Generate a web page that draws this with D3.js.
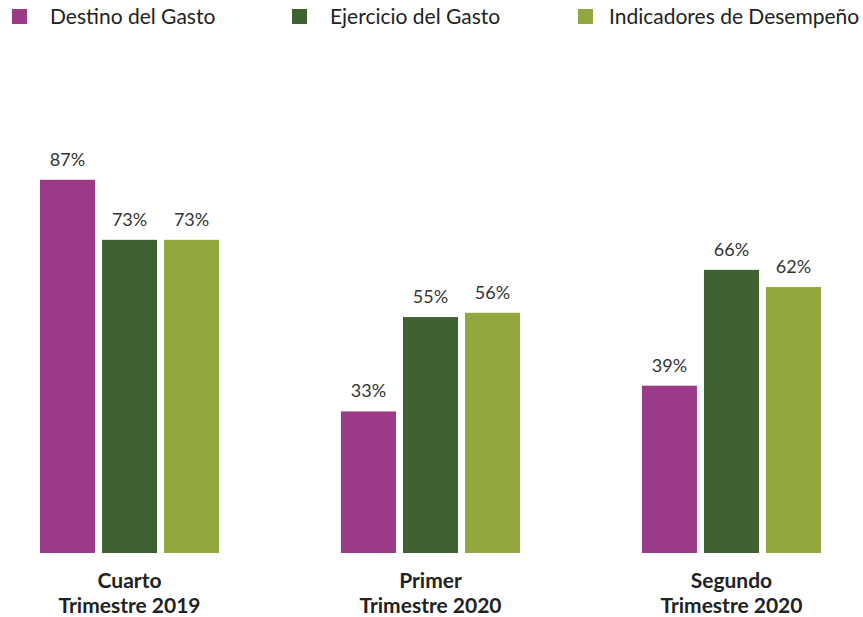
<!DOCTYPE html>
<html>
<head>
<meta charset="utf-8">
<script src="https://cdn.jsdelivr.net/npm/d3@7"></script>
<style>
  body { margin: 0; background: #fff; }
  #chart { width: 863px; height: 617px; }
</style>
</head>
<body>
<div id="chart"></div>
<script>
// Data
const categories = [["Cuarto", "Trimestre 2019"], ["Primer", "Trimestre 2020"], ["Segundo", "Trimestre 2020"]];
const series = ["Destino del Gasto", "Ejercicio del Gasto", "Indicadores de Desempeño"];
const destino = [87, 33, 39];
const ejercicio = [73, 55, 66];
const indicadores = [73, 56, 62];
const colors = ["#9b3b87", "#3f6230", "#92a83e"];

const width = 863;
const height = 617;
const baseline = 553;

const values = [destino, ejercicio, indicadores];
const data = categories.map((c, i) => ({
  key: c.join(" "),
  lines: c,
  vals: series.map((s, j) => ({ series: s, value: values[j][i] })),
}));

const svg = d3.select("#chart").append("svg")
  .attr("width", width)
  .attr("height", height);

const x0 = d3.scaleBand()
  .domain(data.map((d) => d.key))
  .range([40, 821])
  .paddingInner(0.405)
  .paddingOuter(0);

const x1 = d3.scaleBand()
  .domain(series)
  .range([0, x0.bandwidth()])
  .paddingInner(0.113);

const y = d3.scaleLinear()
  .domain([0, 100])
  .range([baseline, baseline - 429]);

const color = d3.scaleOrdinal().domain(series).range(colors);

// Bars
const groups = svg.append("g").selectAll("g")
  .data(data)
  .join("g")
  .attr("transform", (d) => `translate(${x0(d.key)},0)`);

groups.selectAll("rect")
  .data((d) => d.vals)
  .join("rect")
  .attr("x", (d) => x1(d.series))
  .attr("y", (d) => y(d.value))
  .attr("width", x1.bandwidth())
  .attr("height", (d) => y(0) - y(d.value))
  .attr("fill", (d) => color(d.series));

groups.selectAll("text.val")
  .data((d) => d.vals)
  .join("text")
  .attr("class", "val")
  .attr("x", (d) => x1(d.series) + x1.bandwidth() / 2)
  .attr("y", (d) => y(d.value) - 14)
  .attr("text-anchor", "middle")
  .attr("fill", "#333")
  .style("font-family", "Lato, sans-serif")
  .style("font-size", "18px")
  .text((d) => d.value + "%");

// Category labels
const xAxis = svg.append("g");
data.forEach((d) => {
  const t = xAxis.append("text")
    .attr("x", x0(d.key) + x0.bandwidth() / 2)
    .attr("y", 588)
    .attr("text-anchor", "middle")
    .attr("fill", "#222")
    .style("font-family", "Lato, sans-serif")
    .style("font-weight", "bold")
    .style("font-size", "21px");
  t.selectAll("tspan")
    .data(d.lines)
    .join("tspan")
    .attr("x", x0(d.key) + x0.bandwidth() / 2)
    .attr("dy", (l, i) => (i === 0 ? 0 : 25))
    .text((l) => l);
});

// Legend
const legendX = [12, 292, 578];
const legendTextX = [50, 330, 609];
const legend = svg.append("g").selectAll("g")
  .data(series)
  .join("g");

legend.append("rect")
  .attr("x", (d, i) => legendX[i])
  .attr("y", 9)
  .attr("width", 15)
  .attr("height", 15)
  .attr("fill", (d) => color(d));

legend.append("text")
  .attr("x", (d, i) => legendTextX[i])
  .attr("y", 24)
  .attr("fill", "#222")
  .style("font-family", "Lato, sans-serif")
  .style("font-size", "21px")
  .text((d) => d);
</script>
</body>
</html>
